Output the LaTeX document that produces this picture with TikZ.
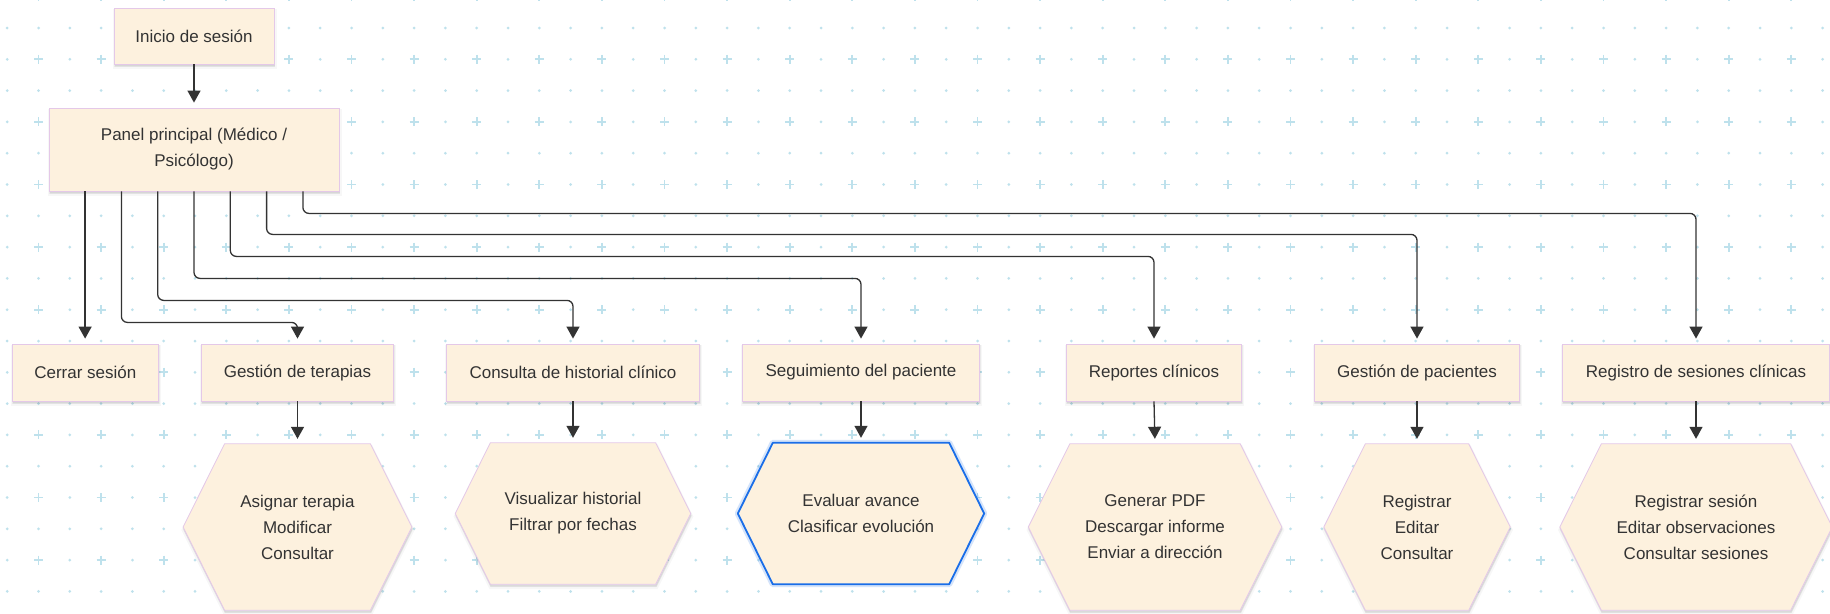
\documentclass[tikz,border=0pt]{standalone}
\usepackage{fontspec}
\setmainfont{Liberation Sans}
\usetikzlibrary{arrows.meta,calc}
\definecolor{gridc}{RGB}{190,225,236}
\definecolor{boxfill}{RGB}{253,241,222}
\definecolor{boxline}{RGB}{228,200,232}
\definecolor{ink}{RGB}{51,51,51}
\definecolor{wire}{RGB}{51,51,51}
\definecolor{focus}{RGB}{26,110,232}

\tikzset{
  txt/.style={font=\fontsize{17}{26}\selectfont, text=ink, align=center, inner sep=0pt},
  softshadow/.style={
    preaction={draw=black, line width=4pt, draw opacity=0.03, fill=black, fill opacity=0.03, transform canvas={xshift=0.5pt, yshift=-3pt}},
    preaction={draw=black, line width=1.5pt, draw opacity=0.05, fill=black, fill opacity=0.05, transform canvas={xshift=0.5pt, yshift=-2pt}}},
  box/.style={txt, rectangle, draw=boxline, line width=0.8pt, fill=boxfill, softshadow},
  hexshape/.style={fill=boxfill, draw=boxline, line width=0.8pt, softshadow},
  conn/.style={draw=wire, line width=1.3pt, rounded corners=6pt, -{Triangle[length=12pt,width=13pt]}, shorten >=5pt},
  griddot/.style={fill=gridc},
  gridcross/.style={draw=gridc, line width=1.8pt},
}

\begin{document}
\begin{tikzpicture}[x=1pt, y=-1pt]
\fill[white] (0,0) rectangle (1830,613);
\useasboundingbox (0,0) rectangle (1830,613);

% dotted background grid: dots everywhere, crosses on odd columns of even rows
\foreach \gx in {7.2,38.5,...,1830} {
  \foreach \gy in {-3.3,59.3,...,613} {
    \fill[gridc] (\gx,\gy+31.3) circle (1.5pt);
  }
}
\foreach \gx in {7.2,69.8,...,1830} {
  \foreach \gy in {-3.3,59.3,...,613} {
    \fill[gridc] (\gx,\gy) circle (1.5pt);
  }
}
\foreach \gx in {38.5,101.1,...,1830} {
  \foreach \gy in {-3.3,59.3,...,613} {
    \draw[gridcross] (\gx-4.5,\gy) -- (\gx+4.5,\gy) (\gx,\gy-4.5) -- (\gx,\gy+4.5);
  }
}

% top nodes
\node[box, minimum width=160pt, minimum height=56pt] (start) at (194,36) {Inicio de sesión};
\node[box, minimum width=290pt, minimum height=83pt] (panel) at (194,149.5) {Panel principal (Médico /\\Psicólogo)};

% modules
\node[box, minimum width=146pt, minimum height=57pt] (cs) at (85.3,372.5) {Cerrar sesión};
\node[box, minimum width=191.6pt, minimum height=57pt] (gt) at (297.5,372.5) {Gestión de terapias};
\node[box, minimum width=252.5pt, minimum height=57pt] (ch) at (573,372.5) {Consulta de historial clínico};
\node[box, minimum width=237pt, minimum height=57pt] (sp) at (861,372.5) {Seguimiento del paciente};
\node[box, minimum width=175pt, minimum height=57pt] (rc) at (1154,372.5) {Reportes clínicos};
\node[box, minimum width=205pt, minimum height=57pt] (gp) at (1417,372.5) {Gestión de pacientes};
\node[box, minimum width=267pt, minimum height=57pt] (rs) at (1696,372.5) {Registro de sesiones clínicas};

% hexagon outlines, drawn before their labels
\newcommand\hexpath[2]{(#1.west) -- ([xshift=#2]#1.north west) -- ([xshift=-#2]#1.north east)
    -- (#1.east) -- ([xshift=-#2]#1.south east) -- ([xshift=#2]#1.south west) -- cycle}
\tikzset{hexbox/.style={txt, minimum width=#1}}
\node[hexbox=228.4pt, minimum height=166pt] (hgt) at (297.5,527) {};
\node[hexbox=235pt, minimum height=141pt] (hch) at (573,513.5) {};
\node[hexbox=246pt, minimum height=141pt] (hsp) at (861,513.5) {};
\node[hexbox=253pt, minimum height=166pt] (hrc) at (1155,527) {};
\node[hexbox=186pt, minimum height=166pt] (hgp) at (1417,527) {};
\node[hexbox=272pt, minimum height=166pt] (hrs) at (1696,527) {};
\path[hexshape] \hexpath{hgt}{41.5pt};
\path[hexshape] \hexpath{hch}{35pt};
\path[hexshape] \hexpath{hrc}{41.5pt};
\path[hexshape] \hexpath{hgp}{41.5pt};
\path[hexshape] \hexpath{hrs}{41.5pt};
% selected hexagon with blue outline and glow
\path[draw=focus, draw opacity=0.18, line width=6pt, line join=round] \hexpath{hsp}{35pt};
\path[fill=boxfill, draw=focus, line width=1.8pt, line join=round] \hexpath{hsp}{35pt};

% hexagon labels
\node[txt] at (hgt) {Asignar terapia\\Modificar\\Consultar};
\node[txt] at (hch) {Visualizar historial\\Filtrar por fechas};
\node[txt] at (hsp) {Evaluar avance\\Clasificar evolución};
\node[txt] at (hrc) {Generar PDF\\Descargar informe\\Enviar a dirección};
\node[txt] at (hgp) {Registrar\\Editar\\Consultar};
\node[txt] at (hrs) {Registrar sesión\\Editar observaciones\\Consultar sesiones};

% connectors
\draw[conn] (start.south) -- (panel.north);
\draw[conn] ([xshift=-108.9pt]panel.south) -- ([xshift=-108.9pt]panel.south |- cs.north);
\draw[conn] ([xshift=-72.6pt]panel.south) -- ++(0,131) -| (gt.north);
\draw[conn] ([xshift=-36.3pt]panel.south) -- ++(0,109) -| (ch.north);
\draw[conn] (panel.south) -- ++(0,87) -| (sp.north);
\draw[conn] ([xshift=36.3pt]panel.south) -- ++(0,65) -| (rc.north);
\draw[conn] ([xshift=72.6pt]panel.south) -- ++(0,43) -| (gp.north);
\draw[conn] ([xshift=108.9pt]panel.south) -- ++(0,22) -| (rs.north);

\draw[conn] (gt.south) -- (hgt.north);
\draw[conn] (ch.south) -- (hch.north);
\draw[conn] (sp.south) -- (hsp.north);
\draw[conn] (rc.south) -- (hrc.north);
\draw[conn] (gp.south) -- (hgp.north);
\draw[conn] (rs.south) -- (hrs.north);
\end{tikzpicture}
\end{document}
